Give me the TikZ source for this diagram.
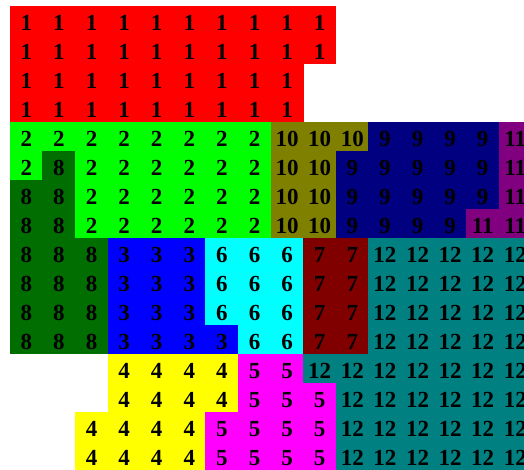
\documentclass[tikz,border=0pt]{standalone}
\usepackage{fontspec}
\setmainfont{Liberation Serif}
\usepackage{tikz}

\definecolor{v1}{RGB}{255,0,0}
\definecolor{v2}{RGB}{0,255,0}
\definecolor{v3}{RGB}{0,0,255}
\definecolor{v4}{RGB}{255,255,0}
\definecolor{v5}{RGB}{255,0,255}
\definecolor{v6}{RGB}{0,255,255}
\definecolor{v7}{RGB}{128,0,0}
\definecolor{v8}{RGB}{0,110,0}
\definecolor{v9}{RGB}{0,0,128}
\definecolor{v10}{RGB}{128,128,0}
\definecolor{v11}{RGB}{128,0,128}
\definecolor{v12}{RGB}{0,128,128}

%% region labels, row by row (0 = empty cell)
\def\gridrows{
  {1,1,1,1,1,1,1,1,1,1,0,0,0,0,0,0},
  {1,1,1,1,1,1,1,1,1,1,0,0,0,0,0,0},
  {1,1,1,1,1,1,1,1,1,0,0,0,0,0,0,0},
  {1,1,1,1,1,1,1,1,1,0,0,0,0,0,0,0},
  {2,2,2,2,2,2,2,2,10,10,10,9,9,9,9,11},
  {2,8,2,2,2,2,2,2,10,10,9,9,9,9,9,11},
  {8,8,2,2,2,2,2,2,10,10,9,9,9,9,9,11},
  {8,8,2,2,2,2,2,2,10,10,9,9,9,9,11,11},
  {8,8,8,3,3,3,6,6,6,7,7,12,12,12,12,12},
  {8,8,8,3,3,3,6,6,6,7,7,12,12,12,12,12},
  {8,8,8,3,3,3,6,6,6,7,7,12,12,12,12,12},
  {8,8,8,3,3,3,3,6,6,7,7,12,12,12,12,12},
  {0,0,0,4,4,4,4,5,5,12,12,12,12,12,12,12},
  {0,0,0,4,4,4,4,5,5,5,12,12,12,12,12,12},
  {0,0,4,4,4,4,5,5,5,5,12,12,12,12,12,12},
  {0,0,4,4,4,4,5,5,5,5,12,12,12,12,12,12}}

\begin{document}
\begin{tikzpicture}[
  x=1pt, y=1pt,
  cellbox/.style={draw=none},
  celltxt/.style={font=\fontsize{23}{23}\selectfont\bfseries, text=black,
                  inner sep=0pt, anchor=base},
]
\useasboundingbox (0,0) rectangle (524,469);
\clip (0,0) rectangle (524,469);

%% ── Coloured cells ───────────────────────────────────────────────────────────
\foreach \cells [count=\r from 0] in \gridrows {
  \foreach \v [count=\c from 0] in \cells {
    \ifnum\v>0
      \path[cellbox, fill=v\v] ({9.7+32.6*\c}, {433.7-29*\r}) rectangle ++(33.2,29.6);
    \fi
  }
}

%% ── Labels ───────────────────────────────────────────────────────────────────
\foreach \cells [count=\r from 0] in \gridrows {
  \foreach \v [count=\c from 0] in \cells {
    \ifnum\v>0
      \node[celltxt] (t-\r-\c) at ({26.3+32.6*\c}, {438.5-29*\r}) {\v};
    \fi
  }
}

\end{tikzpicture}
\end{document}
